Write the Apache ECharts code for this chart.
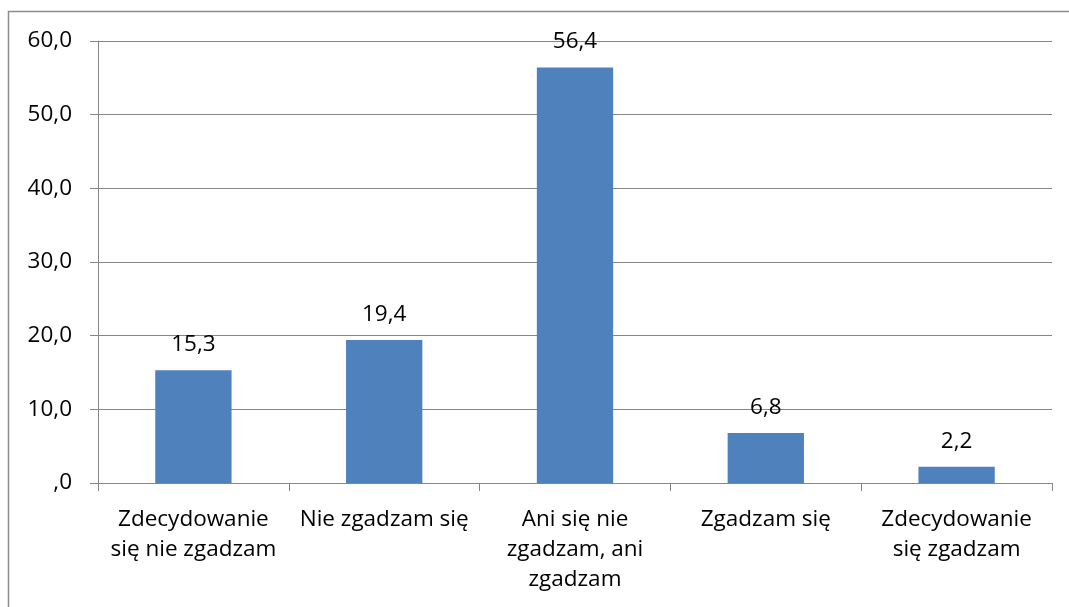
<!DOCTYPE html>
<html>
<head>
<meta charset="utf-8">
<script src="https://cdn.jsdelivr.net/npm/echarts@6/dist/echarts.min.js"></script>
<style>
html, body { margin: 0; padding: 0; background: #fff; }
#main { width: 1069px; height: 607px; }
</style>
</head>
<body>
<div id="main"></div>
<script>
var categories = ['Zdecydowanie\nsię nie zgadzam', 'Nie zgadzam się', 'Ani się nie\nzgadzam, ani\nzgadzam', 'Zgadzam się', 'Zdecydowanie\nsię zgadzam'];
var values = [15.3, 19.4, 56.4, 6.8, 2.2];

function comma(v) {
    var s = Number(v).toFixed(1).replace('.', ',');
    return s.indexOf('0,') === 0 ? s.slice(1) : s;
}

var myChart = echarts.init(document.getElementById('main'));
var lineColor = '#868686';
var option = {
    backgroundColor: '#fff',
    textStyle: {fontFamily: 'Open Sans'},
    graphic: [{
        type: 'rect',
        shape: {x: 8.5, y: 11.5, width: 1200, height: 800},
        style: {fill: 'none', stroke: '#8c8c8c', lineWidth: 1.5},
        silent: true
    }],
    grid: {left: 98, right: 17, top: 41, bottom: 124},
    xAxis: {
        type: 'category',
        data: categories,
        axisLine: {lineStyle: {color: lineColor}},
        axisTick: {show: true, length: 8, lineStyle: {color: lineColor}},
        axisLabel: {
            interval: 0,
            margin: 22,
            color: '#000',
            fontSize: 22.5,
            lineHeight: 30,
            align: 'center'
        }
    },
    yAxis: {
        type: 'value',
        min: 0,
        max: 60,
        interval: 10,
        axisLine: {show: true, lineStyle: {color: lineColor}},
        axisTick: {show: true, length: 8, lineStyle: {color: lineColor}},
        splitLine: {lineStyle: {color: lineColor, width: 1}},
        axisLabel: {
            margin: 26,
            color: '#000',
            fontSize: 22.5,
            formatter: comma
        }
    },
    series: [{
        type: 'bar',
        data: values,
        barWidth: '40%',
        itemStyle: {color: '#4F81BD'},
        label: {
            show: true,
            position: 'top',
            distance: 14,
            color: '#000',
            fontSize: 22.5,
            formatter: function (p) { return comma(p.value); }
        }
    }]
};
myChart.setOption(option);
window.onresize = myChart.resize;
</script>
</body>
</html>
